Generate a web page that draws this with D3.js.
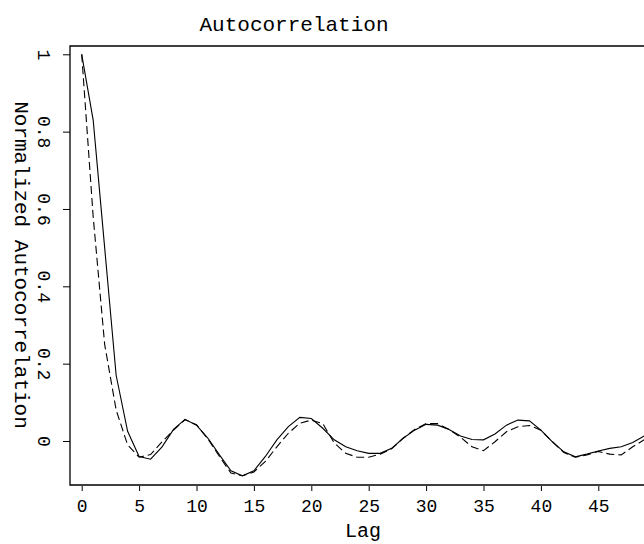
<!DOCTYPE html>
<html>
<head>
<meta charset="utf-8">
<script src="https://cdn.jsdelivr.net/npm/d3@7"></script>
<style>
  body { margin: 0; background: #fff; }
  text { font-family: "Liberation Mono", monospace; fill: #000; }
</style>
</head>
<body>
<div id="chart"></div>
<script>
// lags and the two autocorrelation curves
const lags = d3.range(0, 50);
const solidValues = [1.0, 0.83, 0.50, 0.17, 0.025, -0.04, -0.047, -0.015, 0.03, 0.056,
  0.041, 0.007, -0.036, -0.077, -0.09, -0.077, -0.04, 0.003, 0.037, 0.061,
  0.058, 0.033, 0.003, -0.015, -0.025, -0.032, -0.032, -0.019, 0.007, 0.028,
  0.043, 0.041, 0.03, 0.013, 0.004, 0.003, 0.018, 0.041, 0.054, 0.052,
  0.028, -0.002, -0.028, -0.041, -0.034, -0.026, -0.019, -0.015, -0.004, 0.013];
const dashedValues = [1.0, 0.58, 0.25, 0.08, -0.01, -0.042, -0.035, -0.002, 0.028, 0.055,
  0.042, 0.005, -0.04, -0.083, -0.09, -0.08, -0.053, -0.015, 0.02, 0.046,
  0.054, 0.045, -0.005, -0.032, -0.042, -0.042, -0.034, -0.02, 0.007, 0.03,
  0.045, 0.045, 0.03, 0.01, -0.015, -0.025, -0.002, 0.024, 0.037, 0.04,
  0.028, -0.002, -0.03, -0.042, -0.036, -0.027, -0.034, -0.036, -0.015, 0.003];
const xTicks = [0, 5, 10, 15, 20, 25, 30, 35, 40, 45];
const yTicks = [0, 0.2, 0.4, 0.6, 0.8, 1];

const width = 644;
const height = 544;
const plotLeft = 70, plotTop = 46, plotBottom = 485, plotRight = 660;
const font = "Liberation Mono, monospace";

const x = d3.scaleLinear().domain([0, 45]).range([81.7, 598.3]);
const y = d3.scaleLinear().domain([0, 1]).range([441, 54.3]);

const svg = d3.select("#chart").append("svg")
  .attr("width", width)
  .attr("height", height);

svg.append("defs").append("clipPath").attr("id", "plot-clip")
  .append("rect")
  .attr("x", plotLeft).attr("y", plotTop)
  .attr("width", plotRight - plotLeft).attr("height", plotBottom - plotTop);

// frame (right side runs off the picture)
svg.append("path")
  .attr("fill", "none")
  .attr("stroke", "#000")
  .attr("stroke-width", 1.3)
  .attr("d", `M${plotRight},${plotTop}H${plotLeft}V${plotBottom}H${plotRight}`);

// x axis
const xAxis = svg.append("g")
  .attr("transform", `translate(0,${plotBottom + 1})`)
  .call(d3.axisBottom(x).tickValues(xTicks).tickSize(5).tickSizeOuter(0))
  .call(g => g.select(".domain").remove());
xAxis.selectAll("line").attr("stroke", "#000");
xAxis.selectAll("text")
  .attr("y", 26).attr("dy", null)
  .attr("font-size", 18)
  .attr("font-family", font);

// y axis, labels turned to read top-down
const yAxis = svg.append("g")
  .attr("transform", `translate(${plotLeft},0)`)
  .call(d3.axisLeft(y).tickValues(yTicks).tickSize(7).tickSizeOuter(0).tickFormat(d3.format("")))
  .call(g => g.select(".domain").remove());
yAxis.selectAll("line").attr("stroke", "#000");
yAxis.selectAll("text")
  .attr("x", null).attr("dy", null)
  .attr("text-anchor", "middle")
  .attr("transform", "translate(-32,0) rotate(90)")
  .attr("font-size", 18)
  .attr("font-family", font);

// curves
const line = d3.line()
  .x(d => x(d[0]))
  .y(d => y(d[1]));

const curves = svg.append("g")
  .attr("clip-path", "url(#plot-clip)")
  .attr("fill", "none")
  .attr("stroke", "#000")
  .attr("stroke-width", 1.1);

curves.append("path")
  .attr("d", line(lags.map((l, i) => [l, solidValues[i]])));

curves.append("path")
  .attr("stroke-dasharray", "8,4")
  .attr("d", line(lags.map((l, i) => [l, dashedValues[i]])));

// titles
svg.append("text")
  .attr("x", 294).attr("y", 31)
  .attr("text-anchor", "middle")
  .attr("font-size", 21)
  .text("Autocorrelation");

svg.append("text")
  .attr("x", 363).attr("y", 537)
  .attr("text-anchor", "middle")
  .attr("font-size", 20)
  .text("Lag");

svg.append("text")
  .attr("transform", "translate(15,265) rotate(90)")
  .attr("text-anchor", "middle")
  .attr("font-size", 21)
  .text("Normalized Autocorrelation");
</script>
</body>
</html>
